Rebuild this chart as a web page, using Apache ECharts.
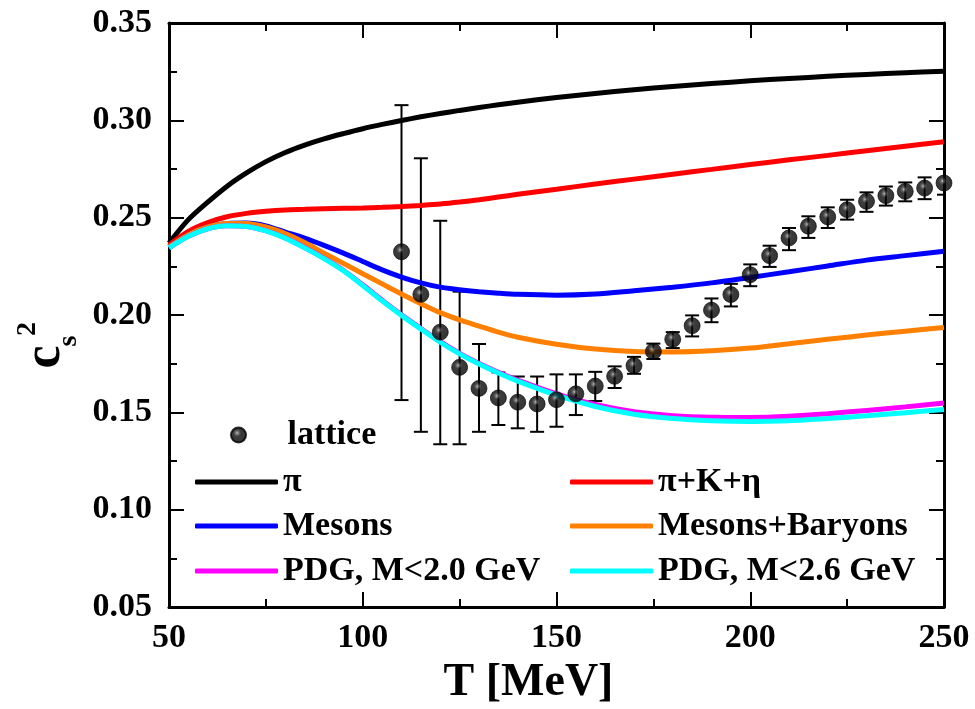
<!DOCTYPE html>
<html><head><meta charset="utf-8">
<script src="https://cdn.jsdelivr.net/npm/echarts@6/dist/echarts.min.js"></script>
<style>html,body{margin:0;padding:0;background:#fff}#c{width:975px;height:709px}</style>
</head><body><div id="c"></div>
<script>
// ---- data ----
const curveT = [50,55,60,65,70,75,80,85,90,95,100,105,110,115,120,125,130,135,140,150,160,170,180,190,200,210,220,230,240,250];
const piVals = [0.2370,0.2490,0.2580,0.2662,0.2730,0.2788,0.2835,0.2873,0.2905,0.2932,0.2957,0.2979,0.2999,0.3018,0.3035,0.3051,0.3066,0.3080,0.3093,0.3117,0.3138,0.3157,0.3174,0.3189,0.3203,0.3215,0.3226,0.3236,0.3245,0.3252];
const pkeVals = [0.2360,0.2430,0.2475,0.2505,0.2522,0.2533,0.2540,0.2543,0.2546,0.2548,0.2550,0.2553,0.2557,0.2563,0.2570,0.2580,0.2592,0.2606,0.2620,0.2646,0.2673,0.2698,0.2723,0.2748,0.2773,0.2797,0.2820,0.2844,0.2867,0.2890];
const mesonVals = [0.2350,0.2413,0.2452,0.2470,0.2472,0.2458,0.2426,0.2395,0.2358,0.2318,0.2275,0.2232,0.2195,0.2165,0.2143,0.2130,0.2120,0.2112,0.2106,0.2102,0.2108,0.2125,0.2143,0.2165,0.2193,0.2222,0.2252,0.2282,0.2305,0.2328];
const mbVals = [0.2350,0.2413,0.2452,0.2470,0.2470,0.2452,0.2418,0.2372,0.2318,0.2265,0.2212,0.2160,0.2108,0.2058,0.2012,0.1975,0.1943,0.1912,0.1886,0.1850,0.1825,0.1812,0.1810,0.1816,0.1830,0.1852,0.1875,0.1897,0.1917,0.1936];
const pdg20Vals = [0.2345,0.2405,0.2443,0.2458,0.2455,0.2433,0.2396,0.2347,0.2292,0.2230,0.2155,0.2076,0.2001,0.1931,0.1863,0.1803,0.1751,0.1706,0.1665,0.1595,0.1540,0.1503,0.1483,0.1475,0.1474,0.1480,0.1493,0.1510,0.1528,0.1548];
const pdg26Vals = [0.2345,0.2405,0.2443,0.2458,0.2455,0.2432,0.2395,0.2345,0.2290,0.2228,0.2152,0.2073,0.1998,0.1928,0.1860,0.1800,0.1748,0.1702,0.1660,0.1588,0.1530,0.1490,0.1468,0.1457,0.1453,0.1457,0.1468,0.1482,0.1498,0.1515];

const latT  = [110,115,120,125,130,135,140,145,150,155,160,165,170,175,180,185,190,195,200,205,210,215,220,225,230,235,240,245,250];
const latV  = [0.2325,0.2106,0.1912,0.1731,0.1623,0.1574,0.1552,0.1543,0.1565,0.1595,0.1635,0.1685,0.1740,0.1813,0.1875,0.1945,0.2025,0.2105,0.2207,0.2305,0.2396,0.2456,0.2504,0.2541,0.2584,0.2613,0.2635,0.2652,0.2678];
const latLo = [0.1563,0.1400,0.1336,0.1336,0.1400,0.1435,0.1418,0.1400,0.1426,0.1486,0.1558,0.1625,0.1698,0.1774,0.1830,0.1890,0.1963,0.2044,0.2148,0.2247,0.2333,0.2396,0.2447,0.2490,0.2530,0.2562,0.2584,0.2595,0.2618];
const latHi = [0.3078,0.2805,0.2484,0.2120,0.1851,0.1705,0.1684,0.1684,0.1695,0.1695,0.1708,0.1736,0.1785,0.1853,0.1912,0.1998,0.2085,0.2160,0.2260,0.2356,0.2447,0.2507,0.2553,0.2592,0.2630,0.2660,0.2681,0.2707,0.2750];

const xTicks = {min:50, max:250, interval:50};
const yTicks = {min:0.05, max:0.35, interval:0.05};

// ---- chart ----
const FF = "'Liberation Serif','Times New Roman',serif";
const chart = echarts.init(document.getElementById('c'), null, {renderer:'canvas'});
const pair = (xs, ys) => xs.map((x,i)=>[x, ys[i]]);
const sphere = {type:'radial', x:0.42, y:0.38, r:0.68, colorStops:[
  {offset:0,color:'#b4b4b4'},{offset:0.12,color:'#5a5a5a'},{offset:0.32,color:'#0c0c0c'},{offset:1,color:'#000'}]};

const axisCommon = (extra) => Object.assign({
  type:'value',
  axisLine:{show:true, onZero:false, lineStyle:{color:'#000', width:3}},
  axisTick:{show:true, inside:true, length:15, lineStyle:{color:'#000', width:2}},
  minorTick:{show:true, splitNumber:2, length:8, lineStyle:{color:'#000', width:2}},
  splitLine:{show:false},
  minorSplitLine:{show:false}
}, extra);

const lineSeries = (name, vals, color) => ({
  name, type:'line', data:pair(curveT, vals), smooth:0.3, showSymbol:false, symbol:'none',
  lineStyle:{color, width:5}, itemStyle:{color}, silent:true, animation:false
});

const legendText = {fontSize:34, fontWeight:'bold', fontFamily:FF, color:'#000', lineHeight:36};
const lineLegend = (name, left, top) => ({
  data:[{name, icon:'roundRect'}], left, top, itemWidth:83, itemHeight:5, padding:0,
  selectedMode:false, textStyle:legendText
});
const titleStyle = (t, fs) => ({text:t, fontSize:fs, fontWeight:'bold', fontFamily:FF, fill:'#000',
  align:'center', verticalAlign:'middle', textAlign:'center', textVerticalAlign:'middle'});

const option = {
  backgroundColor:'#fff',
  animation:false,
  grid:{left:169, right:31, top:23, bottom:102, containLabel:false, outerBoundsMode:'none'},
  xAxis:[
    axisCommon(Object.assign({position:'bottom', name:'T [MeV]', nameLocation:'middle', nameGap:50,
      nameTextStyle:{fontSize:46, fontWeight:'bold', fontFamily:FF, color:'#000', padding:[0,56,0,0]},
      axisLabel:{fontSize:34, fontWeight:'bold', fontFamily:FF, color:'#000', margin:14}}, xTicks)),
    axisCommon(Object.assign({position:'top', axisLabel:{show:false}}, xTicks))
  ],
  yAxis:[
    axisCommon(Object.assign({position:'left',
      axisLabel:{fontSize:34, fontWeight:'bold', fontFamily:FF, color:'#000', margin:17, formatter:v=>v.toFixed(2)}}, yTicks)),
    axisCommon(Object.assign({position:'right', axisLabel:{show:false}}, yTicks))
  ],
  legend:[
    {data:[{name:'lattice', icon:'circle'}], left:230, top:417, itemWidth:88, itemHeight:15, padding:0,
     selectedMode:false, textStyle:legendText},
    lineLegend('π', 195, 464),
    lineLegend('π+K+η', 570, 464),
    lineLegend('Mesons', 195, 508),
    lineLegend('Mesons+Baryons', 570, 508),
    lineLegend('PDG, M<2.0 GeV', 195, 553),
    lineLegend('PDG, M<2.6 GeV', 570, 553)
  ],
  graphic:[
    {type:'text', x:46, y:357, rotation:Math.PI/2, style:titleStyle('c', 52)},
    {type:'text', x:69, y:341, rotation:Math.PI/2, style:titleStyle('s', 28)},
    {type:'text', x:28, y:329, rotation:Math.PI/2, style:titleStyle('2', 28)}
  ],
  series:[
    lineSeries('π', piVals, '#000000'),
    lineSeries('π+K+η', pkeVals, '#ff0000'),
    lineSeries('Mesons', mesonVals, '#0000ff'),
    lineSeries('Mesons+Baryons', mbVals, '#ff8000'),
    lineSeries('PDG, M<2.0 GeV', pdg20Vals, '#ff00ff'),
    lineSeries('PDG, M<2.6 GeV', pdg26Vals, '#00ffff'),
    {
      name:'lattice-err', type:'custom', silent:true, clip:true,
      data: latT.map((t,i)=>[t, latV[i], latLo[i], latHi[i]]),
      encode:{x:0, y:1},
      renderItem:(params, api)=>{
        const t = api.value(0);
        const a = api.coord([t, api.value(2)]);
        const b = api.coord([t, api.value(3)]);
        const w = 7;
        const st = {stroke:'#000', lineWidth:2};
        return {type:'group', children:[
          {type:'line', shape:{x1:a[0], y1:a[1], x2:b[0], y2:b[1]}, style:st},
          {type:'line', shape:{x1:a[0]-w, y1:a[1], x2:a[0]+w, y2:a[1]}, style:st},
          {type:'line', shape:{x1:b[0]-w, y1:b[1], x2:b[0]+w, y2:b[1]}, style:st}
        ]};
      }
    },
    {
      name:'lattice', type:'scatter', data:pair(latT, latV), symbol:'circle', symbolSize:16,
      itemStyle:{color:sphere, borderColor:'#000', borderWidth:0.8}, silent:true, z:5
    }
  ]
};
chart.setOption(option);
</script>
</body></html>
